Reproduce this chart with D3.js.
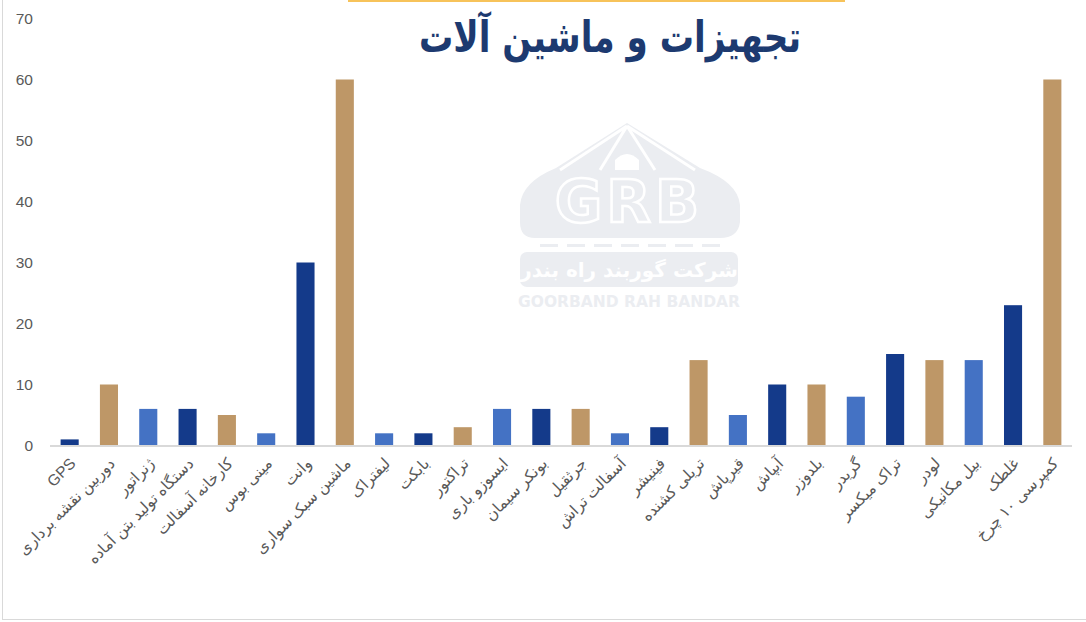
<!DOCTYPE html>
<html><head><meta charset="utf-8">
<script src="https://cdn.jsdelivr.net/npm/d3@7"></script>
<style>html,body{margin:0;padding:0;background:#fff;}svg{display:block;}</style>
</head><body>
<svg id="c" width="1086" height="622"></svg>
<script>
const categories = ["GPS","دوربین نقشه برداری","ژنراتور","دستگاه تولید بتن آماده","کارخانه آسفالت","مینی بوس","وانت","ماشین سبک سواری","لیفتراک","بابکت","تراکتور","ایسوزو باری","بونکر سیمان","جرثقیل","آسفالت تراش","فینیشر","تریلی کشنده","قیرپاش","آبپاش","بلدوزر","گریدر","تراک میکسر","لودر","بیل مکانیکی","غلطک","کمپرسی ۱۰ چرخ"];
const values = [1,10,6,6,5,2,30,60,2,2,3,6,6,6,2,3,14,5,10,10,8,15,14,14,23,60];
const yTicks = [0,10,20,30,40,50,60,70];
const palette = ["#143A8A","#BE9767","#4472C4"];
const title = "تجهیزات و ماشین آلات";

const svg = d3.select("#c");
// frame
svg.append("line").attr("x1",2.5).attr("x2",2.5).attr("y1",0).attr("y2",620).attr("stroke","#d9d9d9");
svg.append("line").attr("x1",2).attr("x2",1086).attr("y1",619.5).attr("y2",619.5).attr("stroke","#d9d9d9");
svg.append("line").attr("x1",348).attr("x2",845).attr("y1",1).attr("y2",1).attr("stroke","#F7C35A").attr("stroke-width",2);

// watermark
const wmc = "#ebedf1";
const wm = svg.append("g").attr("fill",wmc);
wm.append("path").attr("d","M627,123 L700,168 Q738,182 740,205 L740,222 Q738,238 720,238 L535,238 Q520,238 520,222 L520,205 Q522,182 556,168 Z");
const ws = svg.append("g").attr("stroke","#fff").attr("stroke-width",3).attr("fill","none");
ws.append("path").attr("d","M627,126 L560,170 M627,126 L600,170 M627,126 L655,170 M627,126 L695,170");
svg.append("path").attr("d","M615,170 L615,160 Q627,148 639,160 L639,170 Z").attr("fill","#fff");
svg.append("text").attr("x",629).attr("y",222).attr("text-anchor","middle")
  .attr("font-family","DejaVu Sans").attr("font-weight","bold").attr("font-size",58)
  .attr("fill",wmc).attr("stroke","#fff").attr("stroke-width",2.5).attr("letter-spacing",4).text("GRB");
d3.range(7).forEach(i=>{
  svg.append("rect").attr("x",540+i*27).attr("y",244).attr("width",18).attr("height",3).attr("fill",wmc);
});
svg.append("rect").attr("x",520).attr("y",252).attr("width",218).attr("height",35).attr("rx",7).attr("fill",wmc);
svg.append("text").attr("x",629).attr("y",277).attr("text-anchor","middle")
  .attr("font-family","DejaVu Sans").attr("font-weight","bold").attr("font-size",20)
  .attr("fill","#fff").text("شرکت گوربند راه بندر");
svg.append("text").attr("x",629).attr("y",307).attr("text-anchor","middle")
  .attr("font-family","DejaVu Sans").attr("font-weight","bold").attr("font-size",15.5)
  .attr("fill",wmc).text("GOORBAND RAH BANDAR");

// scales
const x = d3.scaleBand().domain(categories).range([50,1072]).paddingInner(0.54).paddingOuter(0.27);
const y = d3.scaleLinear().domain([0,70]).range([445.5,18.5]);

// y axis
const ya = svg.append("g").attr("transform","translate(33,0)")
  .call(d3.axisLeft(y).tickValues(yTicks).tickSize(0).tickPadding(0));
ya.select(".domain").remove();
ya.selectAll("text").attr("font-family","Liberation Sans, Arial, sans-serif").attr("font-size",15.5).attr("fill","#595959");

// bars
svg.append("g").selectAll("rect").data(values).join("rect")
  .attr("x",(d,i)=>x(categories[i]))
  .attr("width",x.bandwidth())
  .attr("y",d=>y(d))
  .attr("height",d=>y(0)-y(d))
  .attr("fill",(d,i)=>palette[i%3]);

// baseline
svg.append("line").attr("x1",50).attr("x2",1072).attr("y1",y(0)+0.5).attr("y2",y(0)+0.5)
  .attr("stroke","#d9d9d9").attr("stroke-width",2);

// x axis labels
const xa = svg.append("g").attr("transform",`translate(0,${y(0)})`)
  .call(d3.axisBottom(x).tickSize(0).tickPadding(0));
xa.select(".domain").remove();
xa.selectAll(".tick text")
  .attr("font-family","Liberation Sans, DejaVu Sans, sans-serif").attr("font-size",15.5).attr("fill","#595959")
  .attr("text-anchor","end").attr("dy",0).attr("y",0)
  .attr("transform","translate(7,19) rotate(-45)");

// title
svg.append("text").attr("text-anchor","middle")
  .attr("transform","translate(610,52) scale(0.95,1.2)")
  .attr("font-family","DejaVu Sans, Noto Sans, sans-serif").attr("font-weight","bold").attr("font-size",36)
  .attr("fill","#1D3A70").text(title);
</script>
</body></html>
